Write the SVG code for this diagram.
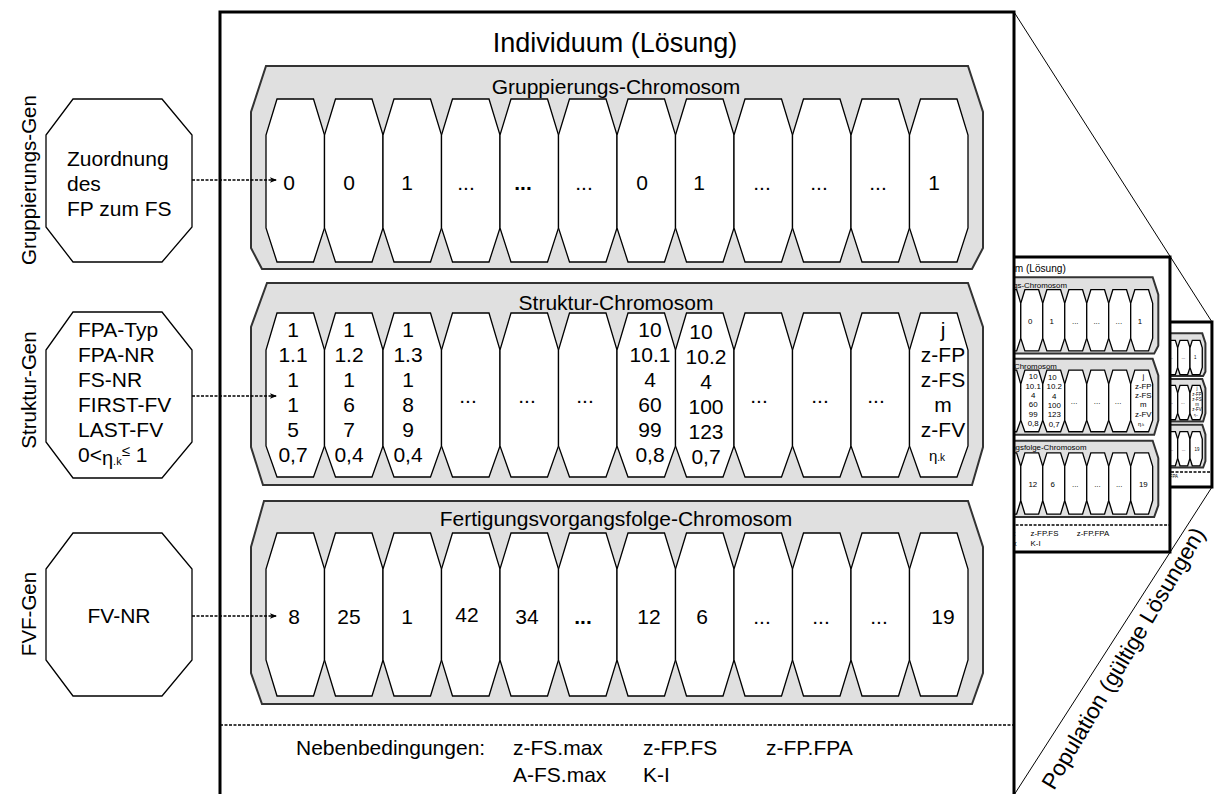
<svg xmlns="http://www.w3.org/2000/svg" width="1218" height="794" viewBox="0 0 1218 794">
<style>
text{font-family:"Liberation Sans",Arial,sans-serif;fill:#000}
.t{font-size:21px}
.m{text-anchor:middle}
.b{font-weight:bold}
.frame{fill:#fff;stroke:#000;stroke-width:3;vector-effect:non-scaling-stroke}
.chrom{fill:#e0e0e0;stroke:#333;stroke-width:2;vector-effect:non-scaling-stroke}
.gene{fill:#fff;stroke:#000;stroke-width:1.3}
.dash{fill:none;stroke:#000;stroke-width:1.5;stroke-dasharray:3 1.5}
.sep{stroke:#000;stroke-width:1.5;stroke-dasharray:3 1.5;vector-effect:non-scaling-stroke}
.persp{stroke:#000;stroke-width:1;fill:none}
</style>
<defs>
<path id="cG" d="M11,99 H47.5 L58.5,135 V228 L47.5,262 H11 L0,228 V135 Z" fill="#fff" stroke="#000" stroke-width="1.3" vector-effect="non-scaling-stroke"/>
<path id="cS" d="M11,313 H47.5 L58.5,350 V446 L47.5,477 H11 L0,446 V350 Z" fill="#fff" stroke="#000" stroke-width="1.3" vector-effect="non-scaling-stroke"/>
<path id="cF" d="M11,533 H47.5 L58.5,569 V660 L47.5,696 H11 L0,660 V569 Z" fill="#fff" stroke="#000" stroke-width="1.3" vector-effect="non-scaling-stroke"/>
<marker id="arr" markerUnits="userSpaceOnUse" markerWidth="8" markerHeight="8" refX="7" refY="3" orient="auto">
<path d="M0,0.3 L7,3 L0,5.7 L1.5,3 Z" fill="#000"/>
</marker>
</defs>

<g id="perspective">
<line class="persp" x1="1014" y1="12" x2="1212" y2="322"/>
<line class="persp" x1="1212" y1="487" x2="1014" y2="795"/>
</g>

<g id="population">
<g id="individuum-copy-3" transform="matrix(0.2102 0 0 0.2102 998.8 319.5)"><use href="#individuum"/></g>
<g id="individuum-copy-2" transform="matrix(0.3758 0 0 0.3758 788.9 252.5)"><use href="#individuum"/></g>
</g>

<g id="individuum">
<rect class="frame" x="220" y="12" width="794" height="785"/>
<text class="m" x="615" y="52" font-size="27">Individuum (Lösung)</text>

<g id="chrom-gruppierung">
<path class="chrom" d="M266,66 H968 L983,112 V248 L972,269 H262 L251,248 V112 Z"/>
<use href="#cG" x="266"/><use href="#cG" x="324.5"/><use href="#cG" x="383"/><use href="#cG" x="441.5"/>
<use href="#cG" x="500"/><use href="#cG" x="558.5"/><use href="#cG" x="617"/><use href="#cG" x="675.5"/>
<use href="#cG" x="734"/><use href="#cG" x="792.5"/><use href="#cG" x="851"/><use href="#cG" x="909.5"/>
<text class="t m" x="616" y="94">Gruppierungs-Chromosom</text>
<g class="t m">
<text class="t m" x="289" y="190">0</text>
<text class="t m" x="349" y="190">0</text>
<text class="t m" x="407" y="190">1</text>
<text class="t m" x="466" y="190">...</text>
<text class="t m b" x="523" y="190">...</text>
<text class="t m" x="584" y="190">...</text>
<text class="t m" x="642" y="190">0</text>
<text class="t m" x="699" y="190">1</text>
<text class="t m" x="762" y="190">...</text>
<text class="t m" x="819" y="190">...</text>
<text class="t m" x="878" y="190">...</text>
<text class="t m" x="934" y="190">1</text>
</g>
</g>

<g id="chrom-struktur">
<path class="chrom" d="M267,283 H968 L983,327 V447 L972,485 H263 L251,447 V327 Z"/>
<use href="#cS" x="266"/><use href="#cS" x="324.5"/><use href="#cS" x="383"/><use href="#cS" x="441.5"/>
<use href="#cS" x="500"/><use href="#cS" x="558.5"/><use href="#cS" x="617"/><use href="#cS" x="675.5"/>
<use href="#cS" x="734"/><use href="#cS" x="792.5"/><use href="#cS" x="851"/><use href="#cS" x="909.5"/>
<text class="t m" x="616" y="310">Struktur-Chromosom</text>
<text class="t m" x="293" y="337">1</text><text class="t m" x="293" y="362">1.1</text><text class="t m" x="293" y="387">1</text><text class="t m" x="293" y="412">1</text><text class="t m" x="293" y="437">5</text><text class="t m" x="293" y="462">0,7</text>
<text class="t m" x="349" y="337">1</text><text class="t m" x="349" y="362">1.2</text><text class="t m" x="349" y="387">1</text><text class="t m" x="349" y="412">6</text><text class="t m" x="349" y="437">7</text><text class="t m" x="349" y="462">0,4</text>
<text class="t m" x="408" y="337">1</text><text class="t m" x="408" y="362">1.3</text><text class="t m" x="408" y="387">1</text><text class="t m" x="408" y="412">8</text><text class="t m" x="408" y="437">9</text><text class="t m" x="408" y="462">0,4</text>
<text class="t m" x="468" y="403">...</text><text class="t m" x="527" y="403">...</text><text class="t m" x="585" y="403">...</text>
<text class="t m" x="650" y="337">10</text><text class="t m" x="650" y="362">10.1</text><text class="t m" x="650" y="387">4</text><text class="t m" x="650" y="412">60</text><text class="t m" x="650" y="437">99</text><text class="t m" x="650" y="462">0,8</text>
<text class="t m" x="701" y="339">10</text><text class="t m" x="706" y="364">10.2</text><text class="t m" x="706" y="389">4</text><text class="t m" x="706" y="414">100</text><text class="t m" x="706" y="439">123</text><text class="t m" x="706" y="464">0,7</text>
<text class="t m" x="759" y="403">...</text><text class="t m" x="820" y="403">...</text><text class="t m" x="876" y="403">...</text>
<text class="t m" x="943" y="337">j</text><text class="t m" x="943" y="362">z-FP</text><text class="t m" x="943" y="387">z-FS</text><text class="t m" x="943" y="412">m</text><text class="t m" x="943" y="437">z-FV</text>
<text class="m" x="937" y="461"><tspan font-size="15">η</tspan><tspan font-size="10">.k</tspan></text>
</g>

<g id="chrom-fvf">
<path class="chrom" d="M264,501 H968 L983,547 V673 L972,704 H262 L251,673 V547 Z"/>
<use href="#cF" x="266"/><use href="#cF" x="324.5"/><use href="#cF" x="383"/><use href="#cF" x="441.5"/>
<use href="#cF" x="500"/><use href="#cF" x="558.5"/><use href="#cF" x="617"/><use href="#cF" x="675.5"/>
<use href="#cF" x="734"/><use href="#cF" x="792.5"/><use href="#cF" x="851"/><use href="#cF" x="909.5"/>
<text class="t m" x="616" y="526">Fertigungsvorgangsfolge-Chromosom</text>
<text class="t m" x="294" y="624">8</text>
<text class="t m" x="349" y="624">25</text>
<text class="t m" x="407" y="624">1</text>
<text class="t m" x="467" y="622">42</text>
<text class="t m" x="527" y="624">34</text>
<text class="t m b" x="583" y="624">...</text>
<text class="t m" x="649" y="624">12</text>
<text class="t m" x="702" y="624">6</text>
<text class="t m" x="762" y="624">...</text>
<text class="t m" x="821" y="624">...</text>
<text class="t m" x="879" y="624">...</text>
<text class="t m" x="943" y="624">19</text>
</g>

<line class="sep" x1="220" y1="725" x2="1014" y2="725"/>
<g id="nebenbedingungen">
<text class="t" x="296" y="755">Nebenbedingungen:</text>
<text class="t" x="513" y="755">z-FS.max</text>
<text class="t" x="643" y="755">z-FP.FS</text>
<text class="t" x="766" y="755">z-FP.FPA</text>
<text class="t" x="513" y="782">A-FS.max</text>
<text class="t" x="643" y="782">K-I</text>
</g>
</g>

<g id="gen-gruppierung">
<polygon class="gene" points="73,99 162,99 192,135 192,227 162,262 73,262 46,227 46,135"/>
<text class="t" x="67" y="166">Zuordnung</text>
<text class="t" x="67" y="191">des</text>
<text class="t" x="67" y="216">FP zum FS</text>
<text class="m" font-size="20.5" transform="translate(36,180) rotate(-90)">Gruppierungs-Gen</text>
</g>

<g id="gen-struktur">
<polygon class="gene" points="73,312 162,312 192,350 192,442 162,478 73,478 46,442 46,350"/>
<text class="t" x="78" y="337">FPA-Typ</text>
<text class="t" x="78" y="362">FPA-NR</text>
<text class="t" x="78" y="387">FS-NR</text>
<text class="t" x="78" y="412">FIRST-FV</text>
<text class="t" x="78" y="437">LAST-FV</text>
<text class="t" x="78" y="462">0&lt;<tspan font-size="20" dy="3">η</tspan><tspan font-size="11">.k</tspan><tspan font-size="15" dy="-9">≤</tspan><tspan dy="6"> 1</tspan></text>
<text class="m" font-size="20.5" transform="translate(36,390) rotate(-90)">Struktur-Gen</text>
</g>

<g id="gen-fvf">
<polygon class="gene" points="73,533 162,533 192,569 192,660 162,696 73,696 46,660 46,569"/>
<text class="t m" x="119" y="623">FV-NR</text>
<text class="m" font-size="20.5" transform="translate(36,614) rotate(-90)">FVF-Gen</text>
</g>

<g id="connectors">
<line class="dash" x1="192" y1="180" x2="277" y2="180" marker-end="url(#arr)"/>
<line class="dash" x1="192" y1="396" x2="277" y2="396" marker-end="url(#arr)"/>
<line class="dash" x1="192" y1="616" x2="277" y2="616" marker-end="url(#arr)"/>
</g>

<text font-size="22.5" transform="translate(1054,791) rotate(-59.5)">Population (gültige Lösungen)</text>
</svg>
